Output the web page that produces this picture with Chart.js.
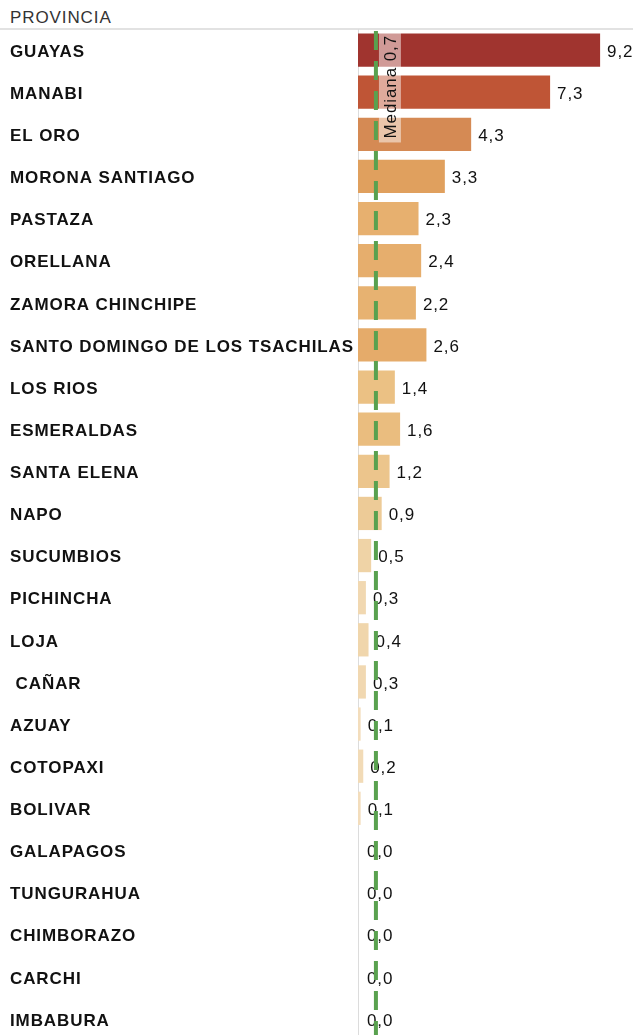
<!DOCTYPE html>
<html><head><meta charset="utf-8">
<script src="https://cdn.jsdelivr.net/npm/chart.js@4/dist/chart.umd.min.js"></script>
<style>
html,body{margin:0;padding:0;overflow:hidden;background:#fff;width:633px;height:1035px}
#hdr{position:absolute;left:0;top:0;width:633px;height:28px;border-bottom:2px solid #e2e2e2;font:17px "Liberation Sans",Arial,sans-serif;letter-spacing:0.9px;color:#333}
#hdr span{position:absolute;left:10px;top:8px}
#c{position:absolute;left:0;top:29px}
</style></head>
<body>
<div id="hdr"><span>PROVINCIA</span></div>
<canvas id="c" width="633" height="1011"></canvas>
<script>
const provinces = ['GUAYAS','MANABI','EL ORO','MORONA SANTIAGO','PASTAZA','ORELLANA','ZAMORA CHINCHIPE','SANTO DOMINGO DE LOS TSACHILAS','LOS RIOS','ESMERALDAS','SANTA ELENA','NAPO','SUCUMBIOS','PICHINCHA','LOJA',' CAÑAR','AZUAY','COTOPAXI','BOLIVAR','GALAPAGOS','TUNGURAHUA','CHIMBORAZO','CARCHI','IMBABURA'];
const values = [9.2,7.3,4.3,3.3,2.3,2.4,2.2,2.6,1.4,1.6,1.2,0.9,0.5,0.3,0.4,0.3,0.1,0.2,0.1,0,0,0,0,0];
const medianValue = 0.7;
const medianLabel = 'Mediana 0,7';

const colorStops = [[0,[244,224,194]],[0.5,[239,211,166]],[1.4,[235,193,132]],[2.3,[231,176,111]],[3.3,[224,160,94]],[4.3,[213,138,84]],[7.3,[191,85,54]],[9.2,[160,52,47]]];
function colorFor(v){
  for(let i=1;i<colorStops.length;i++){
    const [v1,c1]=colorStops[i-1],[v2,c2]=colorStops[i];
    if(v<=v2){const t=(v-v1)/(v2-v1);return 'rgb('+c1.map((c,k)=>Math.round(c+(c2[k]-c)*t)).join(',')+')';}
  }
  const c=colorStops[colorStops.length-1][1];return 'rgb('+c.join(',')+')';
}
const fmt = v => v.toFixed(1).replace('.',',');
const FONT='"Liberation Sans", Arial, sans-serif';
const SPACING='0.9px';

const spacing = {
  id:'spacing',
  beforeDraw(chart){ chart.ctx.letterSpacing=SPACING; }
};
const valueLabels = {
  id:'valueLabels',
  afterDatasetsDraw(chart){
    const ctx=chart.ctx, meta=chart.getDatasetMeta(0);
    ctx.save();
    ctx.letterSpacing=SPACING;
    ctx.font='17px '+FONT;
    ctx.fillStyle='#111';ctx.textAlign='left';ctx.textBaseline='middle';
    meta.data.forEach((bar,i)=>{ctx.fillText(fmt(values[i]),bar.x+(values[i]>0?7:9),bar.y+2);});
    ctx.restore();
  }
};
const medianLine = {
  id:'medianLine',
  afterDatasetsDraw(chart){
    const ctx=chart.ctx, a=chart.chartArea, x=chart.scales.x.getPixelForValue(medianValue)-0.5;
    ctx.save();
    ctx.strokeStyle='#59a14f';ctx.lineWidth=4;ctx.setLineDash([19,11]);ctx.lineDashOffset=-2;
    ctx.beginPath();ctx.moveTo(x,a.top);ctx.lineTo(x,a.bottom+30);ctx.stroke();
    ctx.setLineDash([]);
    ctx.letterSpacing=SPACING;
    ctx.font='17px '+FONT;
    const w=ctx.measureText(medianLabel).width;
    const cx=x+14, top=a.top+4;
    ctx.fillStyle='rgba(255,255,255,0.5)';
    ctx.fillRect(cx-11,top,22,w+6);
    ctx.translate(cx,top+2);ctx.rotate(-Math.PI/2);
    ctx.fillStyle='#111';ctx.textAlign='right';ctx.textBaseline='middle';
    ctx.fillText(medianLabel,0,1);
    ctx.restore();
  }
};

new Chart(document.getElementById('c'),{
  type:'bar',
  data:{labels:provinces,datasets:[{data:values,backgroundColor:values.map(colorFor),barPercentage:0.79,categoryPercentage:1}]},
  options:{
    indexAxis:'y',responsive:false,animation:false,devicePixelRatio:1,
    layout:{padding:{left:10,right:0,top:0,bottom:0}},
    plugins:{legend:{display:false},tooltip:{enabled:false}},
    scales:{
      x:{display:false,min:0,max:10.45},
      y:{grid:{display:false},border:{color:'#dcdcdc',width:1},
         ticks:{crossAlign:'far',padding:0,labelOffset:2,color:'#111',font:{family:FONT,size:17,weight:'bold'}},
         afterFit(s){s.width=348;s.paddingTop=0;s.paddingBottom=0;}}
    }
  },
  plugins:[spacing,valueLabels,medianLine]
});
</script>
</body></html>
